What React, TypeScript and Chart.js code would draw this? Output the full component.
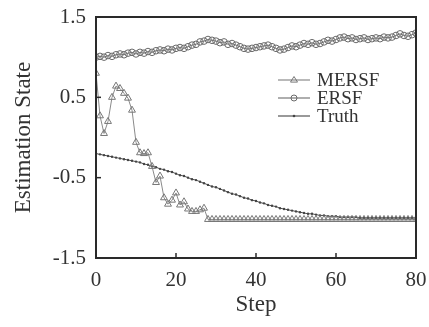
import React, { useEffect, useRef } from "react";
import { Chart, registerables } from "chart.js";

Chart.register(...registerables);

const steps: number[] = Array.from({ length: 81 }, (_, i) => i);

const mersf: number[] = [
  0.80, 0.27, 0.05, 0.20, 0.50, 0.64, 0.61, 0.55, 0.49, 0.34,
  -0.06, -0.19, -0.20, -0.19, -0.36, -0.56, -0.48, -0.75, -0.83, -0.78,
  -0.69, -0.84, -0.80, -0.89, -0.92, -0.92, -0.90, -0.88, -1.02, -1.02,
  -1.02, -1.02, -1.02, -1.02, -1.02, -1.02, -1.02, -1.02, -1.02, -1.02,
  -1.02, -1.02, -1.02, -1.02, -1.02, -1.02, -1.02, -1.02, -1.02, -1.02,
  -1.02, -1.02, -1.02, -1.02, -1.02, -1.02, -1.02, -1.02, -1.02, -1.02,
  -1.02, -1.02, -1.02, -1.02, -1.02, -1.02, -1.02, -1.02, -1.02, -1.02,
  -1.02, -1.02, -1.02, -1.02, -1.02, -1.02, -1.02, -1.02, -1.02, -1.02,
  -1.02,
];

const ersf: number[] = [
  1.00, 1.01, 1.00, 1.02, 1.01, 1.03, 1.04, 1.03, 1.05, 1.06,
  1.04, 1.06, 1.05, 1.07, 1.06, 1.08, 1.09, 1.08, 1.10, 1.09,
  1.11, 1.12, 1.11, 1.13, 1.15, 1.16, 1.19, 1.20, 1.22, 1.21,
  1.20, 1.18, 1.19, 1.16, 1.17, 1.15, 1.13, 1.11, 1.10, 1.11,
  1.12, 1.13, 1.14, 1.15, 1.13, 1.11, 1.09, 1.10, 1.12, 1.14,
  1.13, 1.15, 1.17, 1.16, 1.18, 1.16, 1.17, 1.19, 1.21, 1.20,
  1.22, 1.24, 1.25, 1.23, 1.24, 1.22, 1.23, 1.24, 1.22, 1.23,
  1.24, 1.23, 1.25, 1.24, 1.25, 1.27, 1.29, 1.27, 1.26, 1.28,
  1.30,
];

const truth: number[] = [
  -0.20, -0.21, -0.22, -0.23, -0.24, -0.25, -0.26, -0.27, -0.28, -0.29,
  -0.30, -0.31, -0.33, -0.34, -0.36, -0.37, -0.39, -0.40, -0.42, -0.43,
  -0.45, -0.47, -0.48, -0.50, -0.52, -0.53, -0.55, -0.57, -0.59, -0.61,
  -0.62, -0.64, -0.66, -0.68, -0.70, -0.71, -0.73, -0.75, -0.76, -0.78,
  -0.79, -0.81, -0.82, -0.84, -0.85, -0.86, -0.88, -0.89, -0.90, -0.91,
  -0.92, -0.93, -0.94, -0.95, -0.95, -0.96, -0.97, -0.97, -0.98, -0.98,
  -0.98, -0.99, -0.99, -0.99, -0.99, -0.99, -1.00, -1.00, -1.00, -1.00,
  -1.00, -1.00, -1.00, -1.00, -1.00, -1.00, -1.00, -1.00, -1.00, -1.00,
  -1.00,
];

const seriesNames: string[] = ["MERSF", "ERSF", "Truth"];
const xTicks: number[] = [0, 20, 40, 60, 80];
const yTicks: number[] = [-1.5, -0.5, 0.5, 1.5];

const FONT = "'Liberation Serif', 'Times New Roman', serif";
const TEXT = "#333333";

const framePlugin = {
  id: "frame",
  afterDraw(chart: any) {
    const { ctx, chartArea, scales } = chart;
    const { left, right, top, bottom } = chartArea;
    ctx.save();
    ctx.strokeStyle = "#2a2a2a";
    ctx.lineWidth = 2;
    ctx.strokeRect(left, top, right - left, bottom - top);
    ctx.lineWidth = 1.5;
    const tl = 5;
    for (const v of xTicks) {
      const x = scales.x.getPixelForValue(v);
      ctx.beginPath();
      ctx.moveTo(x, bottom);
      ctx.lineTo(x, bottom - tl);
      ctx.stroke();
    }
    for (const v of yTicks) {
      const y = scales.y.getPixelForValue(v);
      ctx.beginPath();
      ctx.moveTo(left, y);
      ctx.lineTo(left + tl, y);
      ctx.stroke();
    }
    // legend
    const lx0 = 278;
    const lx1 = 310;
    const tx = 317;
    const rows = [80, 98, 116];
    ctx.font = "19px " + FONT;
    ctx.textBaseline = "middle";
    ctx.textAlign = "left";
    chart.data.datasets.forEach((ds: any, i: number) => {
      const y = rows[i];
      ctx.strokeStyle = ds.borderColor;
      ctx.lineWidth = 1.2;
      ctx.beginPath();
      ctx.moveTo(lx0, y);
      ctx.lineTo(lx1, y);
      ctx.stroke();
      const cx = (lx0 + lx1) / 2;
      ctx.strokeStyle = ds.pointBorderColor;
      ctx.lineWidth = 1;
      if (ds.pointStyle === "triangle") {
        const r = 3.5;
        ctx.beginPath();
        ctx.moveTo(cx, y - r);
        ctx.lineTo(cx + r, y + r * 0.6);
        ctx.lineTo(cx - r, y + r * 0.6);
        ctx.closePath();
        ctx.stroke();
      } else if (ds.pointStyle === "circle" && ds.pointRadius > 2) {
        ctx.beginPath();
        ctx.arc(cx, y, 3, 0, Math.PI * 2);
        ctx.stroke();
      } else {
        ctx.fillStyle = ds.pointBorderColor;
        ctx.beginPath();
        ctx.arc(cx, y, 1.3, 0, Math.PI * 2);
        ctx.fill();
      }
      ctx.fillStyle = TEXT;
      ctx.fillText(seriesNames[i], tx, y + 1);
    });
    ctx.restore();
  },
};

export default function App() {
  const ref = useRef<HTMLCanvasElement | null>(null);
  useEffect(() => {
    if (!ref.current) return;
    const chart = new Chart(ref.current, {
      type: "line",
      data: {
        datasets: [
          {
            label: seriesNames[0],
            data: steps.map((s, i) => ({ x: s, y: mersf[i] })),
            borderColor: "#8a8a8a",
            borderWidth: 1,
            pointStyle: "triangle",
            pointRadius: 4,
            pointBorderColor: "#777777",
            pointBackgroundColor: "rgba(255,255,255,0)",
            pointBorderWidth: 1,
          },
          {
            label: seriesNames[1],
            data: steps.map((s, i) => ({ x: s, y: ersf[i] })),
            borderColor: "#777777",
            borderWidth: 1,
            pointStyle: "circle",
            pointRadius: 3.3,
            pointBorderColor: "#6a6a6a",
            pointBackgroundColor: "rgba(255,255,255,0)",
            pointBorderWidth: 1,
          },
          {
            label: seriesNames[2],
            data: steps.map((s, i) => ({ x: s, y: truth[i] })),
            borderColor: "#555555",
            borderWidth: 1,
            pointStyle: "circle",
            pointRadius: 1.2,
            pointBorderColor: "#444444",
            pointBackgroundColor: "#444444",
            pointBorderWidth: 0,
          },
        ],
      },
      options: {
        animation: false,
        responsive: false,
        maintainAspectRatio: false,
        layout: { padding: { top: 17, right: 13, left: 0, bottom: 0 } },
        plugins: { legend: { display: false }, tooltip: { enabled: false } },
        scales: {
          x: {
            type: "linear",
            min: 0,
            max: 80,
            grid: { display: false, drawTicks: false },
            border: { display: false },
            afterFit: (s: any) => {
              s.height = 69;
              s.paddingLeft = 0;
              s.paddingRight = 0;
            },
            afterBuildTicks: (s: any) => {
              s.ticks = xTicks.map((v) => ({ value: v }));
            },
            ticks: {
              color: TEXT,
              padding: 10,
              maxRotation: 0,
              autoSkip: false,
              font: { family: FONT, size: 21 },
            },
            title: {
              display: true,
              text: "Step",
              color: TEXT,
              padding: { top: 0, bottom: 8 },
              font: { family: FONT, size: 23 },
            },
          },
          y: {
            type: "linear",
            min: -1.5,
            max: 1.5,
            grid: { display: false, drawTicks: false },
            border: { display: false },
            afterFit: (s: any) => {
              s.width = 96;
              s.paddingTop = 0;
              s.paddingBottom = 0;
            },
            afterBuildTicks: (s: any) => {
              s.ticks = yTicks.map((v) => ({ value: v }));
            },
            ticks: {
              color: TEXT,
              padding: 10,
              autoSkip: false,
              font: { family: FONT, size: 21 },
              callback: (v: any) => String(v),
            },
            title: {
              display: true,
              text: "Estimation State",
              color: TEXT,
              padding: { top: 10, bottom: 0 },
              font: { family: FONT, size: 23 },
            },
          },
        },
      },
      plugins: [framePlugin],
    });
    return () => chart.destroy();
  }, []);
  return (
    <div
      style={{
        position: "fixed",
        left: 0,
        top: 0,
        width: 429,
        height: 327,
        background: "#ffffff",
      }}
    >
      <canvas ref={ref} width={429} height={327} style={{ display: "block" }} />
    </div>
  );
}
